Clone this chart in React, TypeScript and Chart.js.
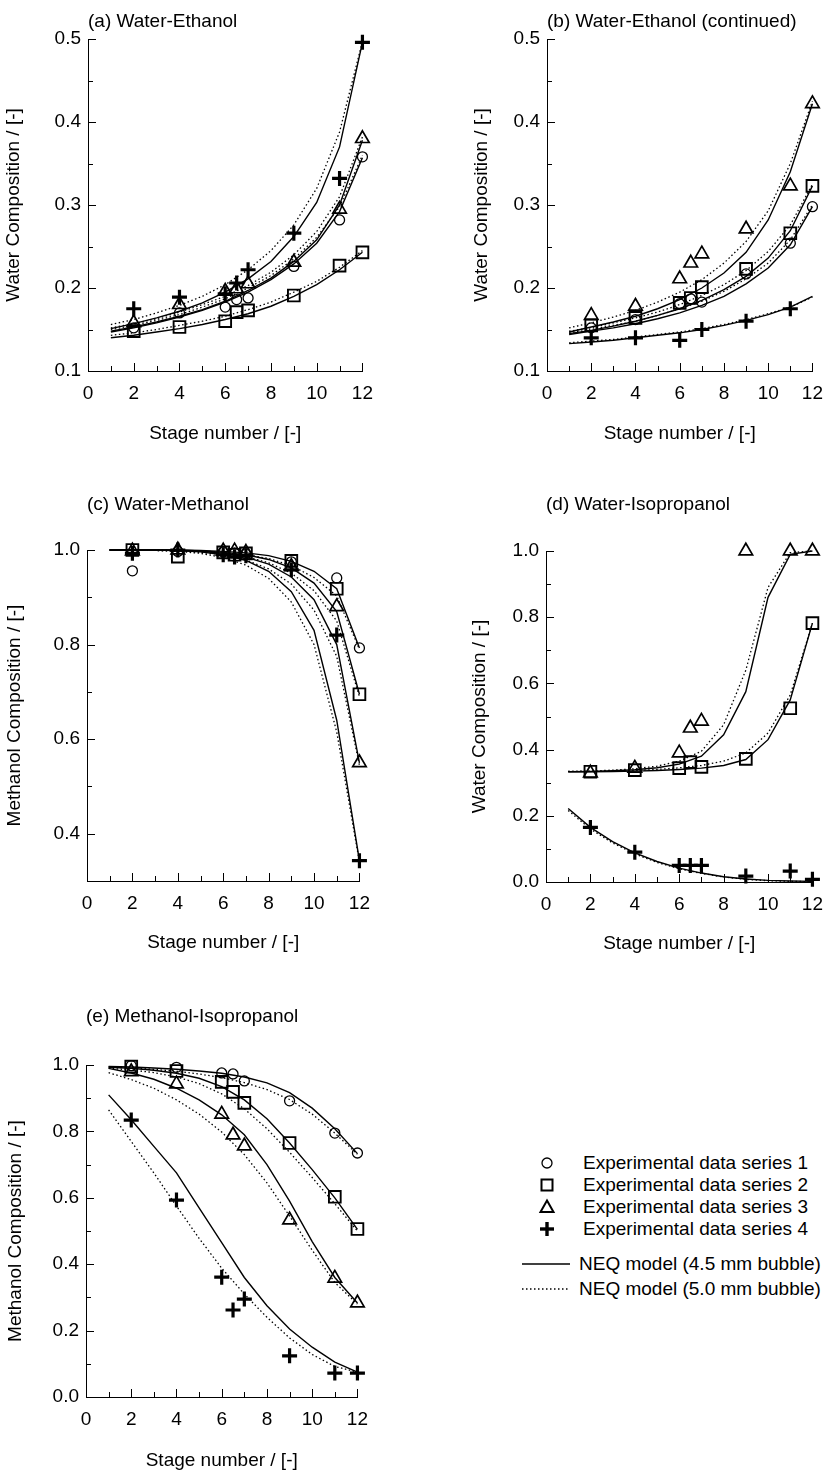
import React, { useEffect, useRef } from "react";
import { Chart, registerables } from "chart.js";

Chart.register(...registerables);

const FONT_FAMILY = '"Liberation Sans", Arial, Helvetica, sans-serif';
const INK = "#000";

// ---------- shared stage grids ----------
const EXP_STAGES = [2, 4, 6, 6.5, 7, 9, 11, 12];
const MODEL_STAGES = [1, 2, 3, 4, 5, 6, 7, 8, 9, 10, 11, 12];
const X_TITLE = "Stage number / [-]";

// ---------- (a) Water-Ethanol ----------
const A_EXP1 = [0.152, 0.17, 0.177, 0.186, 0.188, 0.226, 0.282, 0.358];
const A_EXP2 = [0.148, 0.153, 0.16, 0.171, 0.173, 0.191, 0.227, 0.243];
const A_EXP3 = [0.158, 0.18, 0.196, 0.199, 0.205, 0.231, 0.295, 0.38];
const A_EXP4 = [0.175, 0.189, 0.193, 0.206, 0.222, 0.266, 0.332, 0.496];
const A_NEQ45_1 = [0.147, 0.152, 0.158, 0.165, 0.173, 0.183, 0.195, 0.21, 0.229, 0.254, 0.292, 0.357];
const A_NEQ50_1 = [0.15, 0.155, 0.161, 0.168, 0.177, 0.187, 0.2, 0.215, 0.235, 0.261, 0.298, 0.36];
const A_NEQ45_2 = [0.14, 0.143, 0.147, 0.151, 0.156, 0.162, 0.169, 0.178, 0.19, 0.204, 0.222, 0.243];
const A_NEQ50_2 = [0.143, 0.146, 0.15, 0.155, 0.16, 0.166, 0.174, 0.183, 0.195, 0.208, 0.225, 0.245];
const A_NEQ45_3 = [0.148, 0.153, 0.159, 0.166, 0.174, 0.184, 0.197, 0.212, 0.232, 0.258, 0.3, 0.378];
const A_NEQ50_3 = [0.152, 0.157, 0.163, 0.171, 0.18, 0.19, 0.203, 0.219, 0.24, 0.268, 0.31, 0.382];
const A_NEQ45_4 = [0.151, 0.157, 0.164, 0.172, 0.182, 0.195, 0.211, 0.232, 0.262, 0.303, 0.37, 0.496];
const A_NEQ50_4 = [0.156, 0.162, 0.17, 0.179, 0.19, 0.204, 0.222, 0.245, 0.276, 0.32, 0.388, 0.497];

// ---------- (b) Water-Ethanol (continued) ----------
const B_EXP1 = [0.152, 0.162, 0.181, 0.187, 0.183, 0.217, 0.254, 0.298];
const B_EXP2 = [0.155, 0.164, 0.182, 0.188, 0.201, 0.223, 0.266, 0.323];
const B_EXP3 = [0.167, 0.178, 0.211, 0.23, 0.241, 0.271, 0.323, 0.422];
const B_EXP4 = [0.14, 0.14, 0.137, null, 0.15, 0.16, 0.175, null];
const B_NEQ45_1 = [0.144, 0.148, 0.152, 0.157, 0.163, 0.17, 0.179, 0.19, 0.205, 0.224, 0.252, 0.298];
const B_NEQ50_1 = [0.146, 0.15, 0.155, 0.16, 0.167, 0.175, 0.184, 0.196, 0.211, 0.23, 0.258, 0.3];
const B_NEQ45_2 = [0.145, 0.149, 0.154, 0.16, 0.167, 0.175, 0.185, 0.198, 0.214, 0.236, 0.269, 0.323];
const B_NEQ50_2 = [0.148, 0.152, 0.158, 0.164, 0.171, 0.18, 0.191, 0.204, 0.221, 0.244, 0.276, 0.325];
const B_NEQ45_3 = [0.147, 0.153, 0.159, 0.166, 0.175, 0.186, 0.2, 0.218, 0.243, 0.282, 0.34, 0.422];
const B_NEQ50_3 = [0.152, 0.158, 0.165, 0.173, 0.183, 0.195, 0.21, 0.23, 0.256, 0.293, 0.35, 0.425];
const B_NEQ45_4 = [0.133, 0.135, 0.137, 0.14, 0.143, 0.146, 0.15, 0.155, 0.161, 0.168, 0.177, 0.19];
const B_NEQ50_4 = [0.134, 0.136, 0.138, 0.141, 0.144, 0.147, 0.151, 0.156, 0.162, 0.169, 0.177, 0.189];

// ---------- (c) Water-Methanol ----------
const C_EXP1 = [0.956, 0.997, 0.996, 0.994, 0.992, 0.975, 0.941, 0.793];
const C_EXP2 = [1.0, 0.986, 0.995, 0.99, 0.993, 0.977, 0.918, 0.695];
const C_EXP3 = [0.998, 1.0, 0.998, 0.998, 0.995, 0.965, 0.88, 0.55];
const C_EXP4 = [0.993, 1.0, 0.99, 0.985, 0.988, 0.958, 0.82, 0.343];
const C_NEQ45_1 = [1.0, 1.0, 1.0, 1.0, 0.999, 0.997, 0.994, 0.988, 0.976, 0.955, 0.918, 0.793];
const C_NEQ50_1 = [1.0, 1.0, 1.0, 0.999, 0.998, 0.995, 0.99, 0.982, 0.967, 0.942, 0.903, 0.79];
const C_NEQ45_2 = [1.0, 1.0, 1.0, 1.0, 0.998, 0.995, 0.99, 0.98, 0.962, 0.93, 0.87, 0.695];
const C_NEQ50_2 = [1.0, 1.0, 1.0, 0.999, 0.997, 0.993, 0.986, 0.973, 0.951, 0.914, 0.85, 0.69];
const C_NEQ45_3 = [1.0, 1.0, 1.0, 0.999, 0.997, 0.993, 0.985, 0.97, 0.943, 0.895, 0.8, 0.55];
const C_NEQ50_3 = [1.0, 1.0, 0.999, 0.998, 0.995, 0.99, 0.979, 0.96, 0.928, 0.873, 0.775, 0.545];
const C_NEQ45_4 = [1.0, 1.0, 1.0, 0.999, 0.996, 0.99, 0.978, 0.955, 0.912, 0.83, 0.64, 0.343];
const C_NEQ50_4 = [1.0, 1.0, 0.999, 0.997, 0.993, 0.984, 0.968, 0.94, 0.89, 0.8, 0.615, 0.34];

// ---------- (d) Water-Isopropanol ----------
const D_EXP2 = [0.333, 0.338, 0.344, 0.362, 0.348, 0.372, 0.525, 0.782];
const D_EXP3 = [0.329, 0.344, 0.39, 0.465, 0.486, 1.0, 1.0, 1.0];
const D_EXP4 = [0.165, 0.09, 0.05, 0.05, 0.05, 0.018, 0.033, 0.008];
const D_NEQ45_2 = [0.333, 0.333, 0.334, 0.335, 0.337, 0.34, 0.344, 0.352, 0.37, 0.43, 0.55, 0.782];
const D_NEQ50_2 = [0.334, 0.334, 0.335, 0.337, 0.34, 0.345, 0.352, 0.365, 0.39, 0.45, 0.565, 0.782];
const D_NEQ45_3 = [0.333, 0.334, 0.336, 0.339, 0.345, 0.356, 0.38, 0.445, 0.575, 0.86, 0.99, 1.0];
const D_NEQ50_3 = [0.334, 0.335, 0.338, 0.342, 0.35, 0.365, 0.395, 0.475, 0.64, 0.89, 0.995, 1.0];
const D_NEQ45_4 = [0.222, 0.165, 0.122, 0.088, 0.062, 0.042, 0.027, 0.016, 0.009, 0.005, 0.003, 0.002];
const D_NEQ50_4 = [0.216, 0.16, 0.118, 0.085, 0.059, 0.04, 0.026, 0.015, 0.008, 0.004, 0.002, 0.001];

// ---------- (e) Methanol-Isopropanol ----------
const E_EXP1 = [0.998, 0.993, 0.976, 0.973, 0.952, 0.892, 0.795, 0.735];
const E_EXP2 = [0.995, 0.982, 0.949, 0.919, 0.886, 0.765, 0.603, 0.506];
const E_EXP3 = [0.98, 0.943, 0.852, 0.789, 0.756, 0.533, 0.358, 0.283];
const E_EXP4 = [0.834, 0.593, 0.361, 0.262, 0.295, 0.124, 0.072, 0.072];
const E_NEQ45_1 = [0.996, 0.994, 0.991, 0.987, 0.982, 0.975, 0.964, 0.946, 0.917, 0.87, 0.808, 0.733];
const E_NEQ50_1 = [0.994, 0.991, 0.987, 0.981, 0.973, 0.962, 0.947, 0.926, 0.896, 0.852, 0.795, 0.731];
const E_NEQ45_2 = [0.993, 0.99, 0.984, 0.975, 0.96, 0.935, 0.895, 0.838, 0.765, 0.685, 0.6, 0.505];
const E_NEQ50_2 = [0.99, 0.985, 0.977, 0.964, 0.944, 0.913, 0.868, 0.808, 0.737, 0.661, 0.582, 0.5];
const E_NEQ45_3 = [0.99, 0.976, 0.957, 0.93, 0.895, 0.85, 0.79, 0.7, 0.59, 0.468, 0.36, 0.283];
const E_NEQ50_3 = [0.977, 0.956, 0.93, 0.895, 0.852, 0.798, 0.73, 0.645, 0.545, 0.442, 0.345, 0.28];
const E_NEQ45_4 = [0.91, 0.835, 0.755, 0.675, 0.57, 0.465, 0.36, 0.275, 0.205, 0.15, 0.105, 0.075];
const E_NEQ50_4 = [0.865, 0.77, 0.675, 0.575, 0.478, 0.388, 0.31, 0.24, 0.178, 0.128, 0.092, 0.075];

// ---------- legend ----------
const LEGEND_EXP_LABELS = [
  "Experimental data series 1",
  "Experimental data series 2",
  "Experimental data series 3",
  "Experimental data series 4",
];
const LEGEND_MODEL_LABELS = ["NEQ model (4.5 mm bubble)", "NEQ model (5.0 mm bubble)"];

// ---------- styles ----------
const MARKERS = [
  { pointStyle: "circle", radius: 5, width: 1.3 },
  { pointStyle: "rect", radius: 8.3, width: 1.9 },
  { pointStyle: "triangle", radius: 7.8, width: 1.7 },
  { pointStyle: "cross", radius: 7.5, width: 3.2 },
];

type Series = { kind: number; exp: (number | null)[]; neq45: number[]; neq50: number[] };

interface PanelSpec {
  key: string;
  title: string;
  yTitle: string;
  left: number;
  top: number;
  width: number;
  height: number;
  yAxisWidth: number;
  xAxisHeight: number;
  padRight: number;
  titlePadTop: number;
  titlePadBottom: number;
  yTitlePad: number;
  xTitlePadBottom: number;
  yMin: number;
  yMax: number;
  yStep: number;
  series: Series[];
}

const toPoints = (xs: number[], ys: (number | null)[]) =>
  xs
    .map((x, i) => (ys[i] == null ? null : { x, y: ys[i] as number }))
    .filter((p) => p !== null);

const innerTicks = {
  id: "innerTicks",
  afterDraw(chart: any) {
    const { ctx, chartArea, scales } = chart;
    const xs = scales.x;
    const ys = scales.y;
    ctx.save();
    ctx.strokeStyle = INK;
    ctx.lineWidth = 1;
    ctx.beginPath();
    xs.ticks.forEach((t: any) => {
      const px = Math.round(xs.getPixelForValue(t.value)) + 0.5;
      const len = t.label !== "" ? 8 : 5;
      const b = Math.round(chartArea.bottom);
      ctx.moveTo(px, b);
      ctx.lineTo(px, b - len);
    });
    ys.ticks.forEach((t: any) => {
      const py = Math.round(ys.getPixelForValue(t.value)) + 0.5;
      const len = t.label !== "" ? 8 : 5;
      const l = Math.round(chartArea.left);
      ctx.moveTo(l, py);
      ctx.lineTo(l + len, py);
    });
    ctx.stroke();
    ctx.restore();
  },
};

function buildDatasets(spec: PanelSpec) {
  const ds: any[] = [];
  spec.series.forEach((s) => {
    const m = MARKERS[s.kind];
    ds.push({
      data: toPoints(EXP_STAGES, s.exp),
      showLine: false,
      pointStyle: m.pointStyle,
      pointRadius: m.radius,
      pointBorderWidth: m.width,
      pointBorderColor: INK,
      pointBackgroundColor: "rgba(0,0,0,0)",
      order: 0,
      clip: false,
    });
    ds.push({
      data: toPoints(MODEL_STAGES, s.neq45),
      showLine: true,
      borderColor: INK,
      borderWidth: 1.4,
      pointRadius: 0,
      tension: 0,
      fill: false,
      order: 1,
      clip: false,
    });
    ds.push({
      data: toPoints(MODEL_STAGES, s.neq50),
      showLine: true,
      borderColor: INK,
      borderWidth: 1.3,
      borderDash: [1.5, 2.5],
      pointRadius: 0,
      tension: 0,
      fill: false,
      order: 1,
      clip: false,
    });
  });
  return ds;
}

const font = { family: FONT_FAMILY, size: 19, weight: "normal" as const };

function Panel({ spec }: { spec: PanelSpec }) {
  const ref = useRef<HTMLCanvasElement | null>(null);
  useEffect(() => {
    if (!ref.current) return;
    const chart = new Chart(ref.current, {
      type: "scatter",
      data: { datasets: buildDatasets(spec) },
      plugins: [innerTicks],
      options: {
        responsive: false,
        maintainAspectRatio: false,
        animation: false,
        events: [],
        layout: { padding: { left: 0, top: 0, right: spec.padRight, bottom: 0 } },
        plugins: {
          legend: { display: false },
          tooltip: { enabled: false },
          title: {
            display: true,
            text: spec.title,
            align: "start",
            fullSize: false,
            color: INK,
            font,
            padding: { top: spec.titlePadTop, bottom: spec.titlePadBottom },
          },
        },
        scales: {
          x: {
            type: "linear",
            position: "bottom",
            min: 0,
            max: 12,
            grid: { display: false, drawTicks: false, tickLength: 0 },
            border: { display: true, color: INK, width: 1 },
            ticks: {
              stepSize: 1,
              autoSkip: false,
              maxRotation: 0,
              padding: 11,
              color: INK,
              font,
              callback: (v: any) => (Math.round(Number(v)) % 2 === 0 ? String(Math.round(Number(v))) : ""),
            },
            title: {
              display: true,
              text: X_TITLE,
              color: INK,
              font,
              padding: { top: 0, bottom: spec.xTitlePadBottom },
            },
            afterFit: (s: any) => {
              s.height = spec.xAxisHeight;
            },
          },
          y: {
            type: "linear",
            position: "left",
            min: spec.yMin,
            max: spec.yMax,
            grid: { display: false, drawTicks: false, tickLength: 0 },
            border: { display: true, color: INK, width: 1 },
            ticks: {
              stepSize: spec.yStep,
              autoSkip: false,
              padding: 7,
              color: INK,
              font,
              callback: (v: any) => {
                const n = Math.round(Number(v) * 100);
                return n % 10 === 0 && (spec.yStep < 0.1 || (n / 10) % 2 === 0)
                  ? Number(v).toFixed(1)
                  : "";
              },
            },
            title: {
              display: true,
              text: spec.yTitle,
              color: INK,
              font,
              padding: { top: spec.yTitlePad, bottom: 0 },
            },
            afterFit: (s: any) => {
              s.width = spec.yAxisWidth;
            },
          },
        },
      } as any,
    });
    return () => chart.destroy();
  }, [spec]);
  return (
    <canvas
      ref={ref}
      width={spec.width}
      height={spec.height}
      style={{ position: "absolute", left: spec.left, top: spec.top, width: spec.width, height: spec.height }}
    />
  );
}

const PANELS: PanelSpec[] = [
  {
    key: "a",
    title: "(a) Water-Ethanol",
    yTitle: "Water Composition / [-]",
    left: 0, top: 0, width: 384, height: 451,
    yAxisWidth: 88, xAxisHeight: 80, padRight: 20,
    titlePadTop: 10.6, titlePadBottom: 5.6, yTitlePad: 2.6, xTitlePadBottom: 5.6,
    yMin: 0.1, yMax: 0.5, yStep: 0.05,
    series: [
      { kind: 0, exp: A_EXP1, neq45: A_NEQ45_1, neq50: A_NEQ50_1 },
      { kind: 1, exp: A_EXP2, neq45: A_NEQ45_2, neq50: A_NEQ50_2 },
      { kind: 2, exp: A_EXP3, neq45: A_NEQ45_3, neq50: A_NEQ50_3 },
      { kind: 3, exp: A_EXP4, neq45: A_NEQ45_4, neq50: A_NEQ50_4 },
    ],
  },
  {
    key: "b",
    title: "(b) Water-Ethanol (continued)",
    yTitle: "Water Composition / [-]",
    left: 460, top: 0, width: 374, height: 451,
    yAxisWidth: 87, xAxisHeight: 80, padRight: 11,
    titlePadTop: 10.6, titlePadBottom: 5.6, yTitlePad: 10.1, xTitlePadBottom: 5.6,
    yMin: 0.1, yMax: 0.5, yStep: 0.05,
    series: [
      { kind: 0, exp: B_EXP1, neq45: B_NEQ45_1, neq50: B_NEQ50_1 },
      { kind: 1, exp: B_EXP2, neq45: B_NEQ45_2, neq50: B_NEQ50_2 },
      { kind: 2, exp: B_EXP3, neq45: B_NEQ45_3, neq50: B_NEQ50_3 },
      { kind: 3, exp: B_EXP4, neq45: B_NEQ45_4, neq50: B_NEQ50_4 },
    ],
  },
  {
    key: "c",
    title: "(c) Water-Methanol",
    yTitle: "Methanol Composition / [-]",
    left: 0, top: 460, width: 381, height: 501,
    yAxisWidth: 87, xAxisHeight: 80, padRight: 20,
    titlePadTop: 33.6, titlePadBottom: 33.6, yTitlePad: 3.6, xTitlePadBottom: 6.6,
    yMin: 0.3, yMax: 1.0, yStep: 0.1,
    series: [
      { kind: 0, exp: C_EXP1, neq45: C_NEQ45_1, neq50: C_NEQ50_1 },
      { kind: 1, exp: C_EXP2, neq45: C_NEQ45_2, neq50: C_NEQ50_2 },
      { kind: 2, exp: C_EXP3, neq45: C_NEQ45_3, neq50: C_NEQ50_3 },
      { kind: 3, exp: C_EXP4, neq45: C_NEQ45_4, neq50: C_NEQ50_4 },
    ],
  },
  {
    key: "d",
    title: "(d) Water-Isopropanol",
    yTitle: "Water Composition / [-]",
    left: 460, top: 460, width: 374, height: 502,
    yAxisWidth: 86, xAxisHeight: 80, padRight: 12,
    titlePadTop: 33.6, titlePadBottom: 34.6, yTitlePad: 8.6, xTitlePadBottom: 6.6,
    yMin: 0, yMax: 1.0, yStep: 0.1,
    series: [
      { kind: 1, exp: D_EXP2, neq45: D_NEQ45_2, neq50: D_NEQ50_2 },
      { kind: 2, exp: D_EXP3, neq45: D_NEQ45_3, neq50: D_NEQ50_3 },
      { kind: 3, exp: D_EXP4, neq45: D_NEQ45_4, neq50: D_NEQ50_4 },
    ],
  },
  {
    key: "e",
    title: "(e) Methanol-Isopropanol",
    yTitle: "Methanol Composition / [-]",
    left: 0, top: 975, width: 379, height: 497,
    yAxisWidth: 86, xAxisHeight: 75, padRight: 20,
    titlePadTop: 30.6, titlePadBottom: 36.6, yTitlePad: 4.6, xTitlePadBottom: 0,
    yMin: 0, yMax: 1.0, yStep: 0.1,
    series: [
      { kind: 0, exp: E_EXP1, neq45: E_NEQ45_1, neq50: E_NEQ50_1 },
      { kind: 1, exp: E_EXP2, neq45: E_NEQ45_2, neq50: E_NEQ50_2 },
      { kind: 2, exp: E_EXP3, neq45: E_NEQ45_3, neq50: E_NEQ50_3 },
      { kind: 3, exp: E_EXP4, neq45: E_NEQ45_4, neq50: E_NEQ50_4 },
    ],
  },
];

const LEGEND_EXP_Y = [1163, 1185, 1207, 1229];
const LEGEND_MODEL_Y = [1264, 1289];

function Symbol({ kind }: { kind: number }) {
  const common = { stroke: INK, fill: "none" };
  let shape: React.ReactNode = null;
  if (kind === 0) shape = <circle cx={10} cy={10} r={5} strokeWidth={1.3} {...common} />;
  else if (kind === 1) shape = <rect x={4.5} y={4.5} width={11} height={11} strokeWidth={2} {...common} />;
  else if (kind === 2) shape = <polygon points="10,3.5 16.5,15 3.5,15" strokeWidth={2} {...common} />;
  else
    shape = (
      <g stroke={INK} strokeWidth={3.4}>
        <line x1={10} y1={3} x2={10} y2={17} />
        <line x1={3} y1={10} x2={17} y2={10} />
      </g>
    );
  return (
    <svg width={20} height={20} style={{ display: "block" }}>
      {shape}
    </svg>
  );
}

const textStyle: React.CSSProperties = {
  position: "absolute",
  fontFamily: FONT_FAMILY,
  fontSize: 19,
  lineHeight: "22px",
  color: INK,
  whiteSpace: "nowrap",
};

function Legend() {
  return (
    <>
      {LEGEND_EXP_LABELS.map((label, i) => (
        <React.Fragment key={label}>
          <div style={{ position: "absolute", left: 537, top: LEGEND_EXP_Y[i] - 10 }}>
            <Symbol kind={i} />
          </div>
          <div style={{ ...textStyle, left: 583, top: LEGEND_EXP_Y[i] - 11 }}>{label}</div>
        </React.Fragment>
      ))}
      {LEGEND_MODEL_LABELS.map((label, i) => (
        <React.Fragment key={label}>
          <svg
            width={50}
            height={6}
            style={{ position: "absolute", left: 522, top: LEGEND_MODEL_Y[i] - 3 }}
          >
            <line
              x1={0}
              y1={3}
              x2={48}
              y2={3}
              stroke={INK}
              strokeWidth={1.4}
              strokeDasharray={i === 0 ? undefined : "1.5 2.5"}
            />
          </svg>
          <div style={{ ...textStyle, left: 579, top: LEGEND_MODEL_Y[i] - 11 }}>{label}</div>
        </React.Fragment>
      ))}
    </>
  );
}

export default function App() {
  return (
    <div
      style={{
        position: "absolute",
        left: 0,
        top: 0,
        width: 834,
        height: 1472,
        background: "#fff",
        overflow: "hidden",
      }}
    >
      {PANELS.map((p) => (
        <Panel key={p.key} spec={p} />
      ))}
      <Legend />
    </div>
  );
}
